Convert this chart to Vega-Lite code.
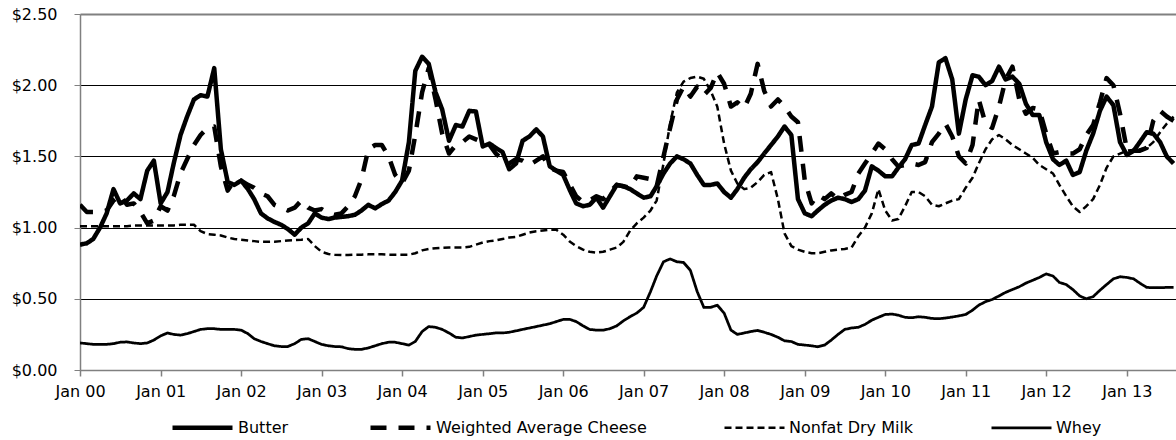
{
  "$schema": "https://vega.github.io/schema/vega-lite/v6.json",
  "width": 1096,
  "height": 356,
  "autosize": {"type": "none"},
  "padding": {"left": 80, "top": 14, "right": 0, "bottom": 70},
  "background": "white",
  "config": {"view": {"stroke": null}, "font": "DejaVu Sans"},
  "data": {"values": [
{"d":"2000-01-01","B":0.88,"C":1.16,"N":1.01,"W":0.19},
{"d":"2000-02-01","B":0.89,"C":1.11,"N":1.01,"W":0.185},
{"d":"2000-03-01","B":0.92,"C":1.11,"N":1.01,"W":0.18},
{"d":"2000-04-01","B":1.00,"C":1.11,"N":1.01,"W":0.18},
{"d":"2000-05-01","B":1.10,"C":1.12,"N":1.01,"W":0.18},
{"d":"2000-06-01","B":1.27,"C":1.19,"N":1.01,"W":0.185},
{"d":"2000-07-01","B":1.17,"C":1.23,"N":1.01,"W":0.195},
{"d":"2000-08-01","B":1.19,"C":1.16,"N":1.01,"W":0.197},
{"d":"2000-09-01","B":1.24,"C":1.17,"N":1.015,"W":0.19},
{"d":"2000-10-01","B":1.20,"C":1.11,"N":1.015,"W":0.185},
{"d":"2000-11-01","B":1.40,"C":1.03,"N":1.015,"W":0.19},
{"d":"2000-12-01","B":1.47,"C":1.05,"N":1.015,"W":0.21},
{"d":"2001-01-01","B":1.17,"C":1.15,"N":1.015,"W":0.24},
{"d":"2001-02-01","B":1.25,"C":1.12,"N":1.015,"W":0.26},
{"d":"2001-03-01","B":1.45,"C":1.22,"N":1.015,"W":0.25},
{"d":"2001-04-01","B":1.65,"C":1.38,"N":1.02,"W":0.245},
{"d":"2001-05-01","B":1.78,"C":1.48,"N":1.02,"W":0.255},
{"d":"2001-06-01","B":1.90,"C":1.58,"N":1.02,"W":0.27},
{"d":"2001-07-01","B":1.93,"C":1.65,"N":0.975,"W":0.285},
{"d":"2001-08-01","B":1.92,"C":1.70,"N":0.955,"W":0.29},
{"d":"2001-09-01","B":2.12,"C":1.71,"N":0.95,"W":0.29},
{"d":"2001-10-01","B":1.55,"C":1.43,"N":0.945,"W":0.285},
{"d":"2001-11-01","B":1.32,"C":1.26,"N":0.93,"W":0.285},
{"d":"2001-12-01","B":1.30,"C":1.33,"N":0.92,"W":0.285},
{"d":"2002-01-01","B":1.33,"C":1.33,"N":0.915,"W":0.28},
{"d":"2002-02-01","B":1.27,"C":1.30,"N":0.91,"W":0.255},
{"d":"2002-03-01","B":1.20,"C":1.28,"N":0.905,"W":0.22},
{"d":"2002-04-01","B":1.10,"C":1.24,"N":0.90,"W":0.20},
{"d":"2002-05-01","B":1.065,"C":1.22,"N":0.90,"W":0.185},
{"d":"2002-06-01","B":1.04,"C":1.16,"N":0.90,"W":0.17},
{"d":"2002-07-01","B":1.02,"C":1.14,"N":0.905,"W":0.165},
{"d":"2002-08-01","B":0.99,"C":1.12,"N":0.91,"W":0.165},
{"d":"2002-09-01","B":0.95,"C":1.14,"N":0.912,"W":0.185},
{"d":"2002-10-01","B":1.00,"C":1.19,"N":0.915,"W":0.215},
{"d":"2002-11-01","B":1.03,"C":1.14,"N":0.92,"W":0.22},
{"d":"2002-12-01","B":1.10,"C":1.12,"N":0.87,"W":0.20},
{"d":"2003-01-01","B":1.07,"C":1.13,"N":0.83,"W":0.18},
{"d":"2003-02-01","B":1.06,"C":1.10,"N":0.815,"W":0.17},
{"d":"2003-03-01","B":1.07,"C":1.09,"N":0.81,"W":0.165},
{"d":"2003-04-01","B":1.075,"C":1.10,"N":0.808,"W":0.163},
{"d":"2003-05-01","B":1.08,"C":1.15,"N":0.808,"W":0.15},
{"d":"2003-06-01","B":1.09,"C":1.22,"N":0.81,"W":0.145},
{"d":"2003-07-01","B":1.12,"C":1.34,"N":0.81,"W":0.145},
{"d":"2003-08-01","B":1.16,"C":1.55,"N":0.812,"W":0.155},
{"d":"2003-09-01","B":1.135,"C":1.58,"N":0.812,"W":0.17},
{"d":"2003-10-01","B":1.165,"C":1.58,"N":0.812,"W":0.185},
{"d":"2003-11-01","B":1.19,"C":1.50,"N":0.81,"W":0.195},
{"d":"2003-12-01","B":1.25,"C":1.37,"N":0.81,"W":0.195},
{"d":"2004-01-01","B":1.33,"C":1.31,"N":0.81,"W":0.185},
{"d":"2004-02-01","B":1.60,"C":1.40,"N":0.81,"W":0.175},
{"d":"2004-03-01","B":2.10,"C":1.65,"N":0.82,"W":0.20},
{"d":"2004-04-01","B":2.20,"C":1.95,"N":0.84,"W":0.27},
{"d":"2004-05-01","B":2.15,"C":2.12,"N":0.85,"W":0.305},
{"d":"2004-06-01","B":1.95,"C":1.90,"N":0.855,"W":0.30},
{"d":"2004-07-01","B":1.83,"C":1.66,"N":0.858,"W":0.285},
{"d":"2004-08-01","B":1.61,"C":1.52,"N":0.86,"W":0.26},
{"d":"2004-09-01","B":1.72,"C":1.58,"N":0.86,"W":0.23},
{"d":"2004-10-01","B":1.71,"C":1.60,"N":0.86,"W":0.225},
{"d":"2004-11-01","B":1.82,"C":1.64,"N":0.865,"W":0.235},
{"d":"2004-12-01","B":1.815,"C":1.62,"N":0.88,"W":0.245},
{"d":"2005-01-01","B":1.57,"C":1.60,"N":0.895,"W":0.25},
{"d":"2005-02-01","B":1.59,"C":1.58,"N":0.905,"W":0.255},
{"d":"2005-03-01","B":1.56,"C":1.52,"N":0.91,"W":0.26},
{"d":"2005-04-01","B":1.53,"C":1.48,"N":0.92,"W":0.26},
{"d":"2005-05-01","B":1.41,"C":1.45,"N":0.93,"W":0.265},
{"d":"2005-06-01","B":1.45,"C":1.48,"N":0.935,"W":0.275},
{"d":"2005-07-01","B":1.61,"C":1.47,"N":0.95,"W":0.285},
{"d":"2005-08-01","B":1.64,"C":1.44,"N":0.965,"W":0.295},
{"d":"2005-09-01","B":1.69,"C":1.47,"N":0.975,"W":0.305},
{"d":"2005-10-01","B":1.64,"C":1.50,"N":0.98,"W":0.315},
{"d":"2005-11-01","B":1.43,"C":1.42,"N":0.985,"W":0.325},
{"d":"2005-12-01","B":1.40,"C":1.40,"N":0.985,"W":0.34},
{"d":"2006-01-01","B":1.37,"C":1.39,"N":0.95,"W":0.355},
{"d":"2006-02-01","B":1.26,"C":1.30,"N":0.90,"W":0.355},
{"d":"2006-03-01","B":1.17,"C":1.22,"N":0.87,"W":0.34},
{"d":"2006-04-01","B":1.15,"C":1.18,"N":0.845,"W":0.31},
{"d":"2006-05-01","B":1.16,"C":1.19,"N":0.83,"W":0.285},
{"d":"2006-06-01","B":1.21,"C":1.22,"N":0.824,"W":0.28},
{"d":"2006-07-01","B":1.14,"C":1.20,"N":0.83,"W":0.28},
{"d":"2006-08-01","B":1.22,"C":1.25,"N":0.845,"W":0.29},
{"d":"2006-09-01","B":1.30,"C":1.30,"N":0.86,"W":0.31},
{"d":"2006-10-01","B":1.29,"C":1.29,"N":0.90,"W":0.345},
{"d":"2006-11-01","B":1.27,"C":1.28,"N":0.98,"W":0.375},
{"d":"2006-12-01","B":1.24,"C":1.36,"N":1.03,"W":0.40},
{"d":"2007-01-01","B":1.21,"C":1.35,"N":1.07,"W":0.44},
{"d":"2007-02-01","B":1.22,"C":1.34,"N":1.12,"W":0.55},
{"d":"2007-03-01","B":1.29,"C":1.29,"N":1.19,"W":0.66},
{"d":"2007-04-01","B":1.38,"C":1.50,"N":1.45,"W":0.76},
{"d":"2007-05-01","B":1.45,"C":1.70,"N":1.73,"W":0.78},
{"d":"2007-06-01","B":1.50,"C":1.90,"N":1.95,"W":0.76},
{"d":"2007-07-01","B":1.48,"C":1.99,"N":2.025,"W":0.755},
{"d":"2007-08-01","B":1.45,"C":1.92,"N":2.05,"W":0.70},
{"d":"2007-09-01","B":1.37,"C":1.99,"N":2.06,"W":0.55},
{"d":"2007-10-01","B":1.30,"C":1.93,"N":2.045,"W":0.44},
{"d":"2007-11-01","B":1.30,"C":1.98,"N":1.96,"W":0.44},
{"d":"2007-12-01","B":1.31,"C":2.09,"N":1.85,"W":0.455},
{"d":"2008-01-01","B":1.25,"C":2.01,"N":1.59,"W":0.40},
{"d":"2008-02-01","B":1.21,"C":1.85,"N":1.40,"W":0.28},
{"d":"2008-03-01","B":1.27,"C":1.88,"N":1.31,"W":0.25},
{"d":"2008-04-01","B":1.35,"C":1.84,"N":1.27,"W":0.26},
{"d":"2008-05-01","B":1.41,"C":1.94,"N":1.28,"W":0.27},
{"d":"2008-06-01","B":1.46,"C":2.15,"N":1.32,"W":0.278},
{"d":"2008-07-01","B":1.52,"C":1.96,"N":1.37,"W":0.265},
{"d":"2008-08-01","B":1.58,"C":1.85,"N":1.39,"W":0.25},
{"d":"2008-09-01","B":1.64,"C":1.90,"N":1.20,"W":0.23},
{"d":"2008-10-01","B":1.71,"C":1.85,"N":0.96,"W":0.205},
{"d":"2008-11-01","B":1.65,"C":1.78,"N":0.87,"W":0.20},
{"d":"2008-12-01","B":1.20,"C":1.74,"N":0.845,"W":0.18},
{"d":"2009-01-01","B":1.10,"C":1.33,"N":0.83,"W":0.175},
{"d":"2009-02-01","B":1.08,"C":1.17,"N":0.82,"W":0.17},
{"d":"2009-03-01","B":1.12,"C":1.23,"N":0.82,"W":0.163},
{"d":"2009-04-01","B":1.16,"C":1.20,"N":0.83,"W":0.175},
{"d":"2009-05-01","B":1.19,"C":1.24,"N":0.84,"W":0.21},
{"d":"2009-06-01","B":1.21,"C":1.20,"N":0.845,"W":0.25},
{"d":"2009-07-01","B":1.20,"C":1.23,"N":0.85,"W":0.285},
{"d":"2009-08-01","B":1.18,"C":1.25,"N":0.86,"W":0.295},
{"d":"2009-09-01","B":1.20,"C":1.38,"N":0.94,"W":0.30},
{"d":"2009-10-01","B":1.26,"C":1.45,"N":1.00,"W":0.32},
{"d":"2009-11-01","B":1.43,"C":1.52,"N":1.10,"W":0.35},
{"d":"2009-12-01","B":1.40,"C":1.59,"N":1.27,"W":0.37},
{"d":"2010-01-01","B":1.36,"C":1.55,"N":1.12,"W":0.39},
{"d":"2010-02-01","B":1.36,"C":1.48,"N":1.05,"W":0.393},
{"d":"2010-03-01","B":1.42,"C":1.43,"N":1.06,"W":0.385},
{"d":"2010-04-01","B":1.48,"C":1.44,"N":1.15,"W":0.37},
{"d":"2010-05-01","B":1.58,"C":1.45,"N":1.25,"W":0.367},
{"d":"2010-06-01","B":1.59,"C":1.44,"N":1.25,"W":0.374},
{"d":"2010-07-01","B":1.72,"C":1.46,"N":1.22,"W":0.37},
{"d":"2010-08-01","B":1.85,"C":1.60,"N":1.16,"W":0.362},
{"d":"2010-09-01","B":2.16,"C":1.66,"N":1.15,"W":0.36},
{"d":"2010-10-01","B":2.19,"C":1.73,"N":1.17,"W":0.365},
{"d":"2010-11-01","B":2.04,"C":1.64,"N":1.19,"W":0.372},
{"d":"2010-12-01","B":1.66,"C":1.50,"N":1.20,"W":0.38},
{"d":"2011-01-01","B":1.90,"C":1.45,"N":1.28,"W":0.39},
{"d":"2011-02-01","B":2.07,"C":1.58,"N":1.35,"W":0.42},
{"d":"2011-03-01","B":2.06,"C":1.90,"N":1.45,"W":0.455},
{"d":"2011-04-01","B":2.00,"C":1.73,"N":1.55,"W":0.48},
{"d":"2011-05-01","B":2.03,"C":1.70,"N":1.62,"W":0.495},
{"d":"2011-06-01","B":2.13,"C":1.85,"N":1.65,"W":0.52},
{"d":"2011-07-01","B":2.04,"C":2.04,"N":1.62,"W":0.545},
{"d":"2011-08-01","B":2.06,"C":2.13,"N":1.58,"W":0.565},
{"d":"2011-09-01","B":2.01,"C":1.90,"N":1.55,"W":0.585},
{"d":"2011-10-01","B":1.87,"C":1.80,"N":1.52,"W":0.61},
{"d":"2011-11-01","B":1.79,"C":1.84,"N":1.49,"W":0.63},
{"d":"2011-12-01","B":1.79,"C":1.83,"N":1.44,"W":0.65},
{"d":"2012-01-01","B":1.60,"C":1.66,"N":1.41,"W":0.675},
{"d":"2012-02-01","B":1.48,"C":1.52,"N":1.38,"W":0.66},
{"d":"2012-03-01","B":1.44,"C":1.53,"N":1.30,"W":0.615},
{"d":"2012-04-01","B":1.47,"C":1.52,"N":1.22,"W":0.60},
{"d":"2012-05-01","B":1.37,"C":1.52,"N":1.15,"W":0.565},
{"d":"2012-06-01","B":1.39,"C":1.55,"N":1.11,"W":0.52},
{"d":"2012-07-01","B":1.54,"C":1.65,"N":1.15,"W":0.50},
{"d":"2012-08-01","B":1.66,"C":1.72,"N":1.20,"W":0.515},
{"d":"2012-09-01","B":1.82,"C":1.88,"N":1.30,"W":0.56},
{"d":"2012-10-01","B":1.92,"C":2.05,"N":1.42,"W":0.60},
{"d":"2012-11-01","B":1.86,"C":2.00,"N":1.50,"W":0.64},
{"d":"2012-12-01","B":1.60,"C":1.80,"N":1.52,"W":0.655},
{"d":"2013-01-01","B":1.51,"C":1.55,"N":1.54,"W":0.65},
{"d":"2013-02-01","B":1.54,"C":1.54,"N":1.545,"W":0.64},
{"d":"2013-03-01","B":1.60,"C":1.54,"N":1.55,"W":0.61},
{"d":"2013-04-01","B":1.67,"C":1.56,"N":1.56,"W":0.58},
{"d":"2013-05-01","B":1.66,"C":1.75,"N":1.60,"W":0.578},
{"d":"2013-06-01","B":1.60,"C":1.82,"N":1.67,"W":0.578},
{"d":"2013-07-01","B":1.50,"C":1.78,"N":1.73,"W":0.58},
{"d":"2013-08-01","B":1.45,"C":1.75,"N":1.78,"W":0.58}
  ]},
  "transform": [
    {"fold": ["B", "C", "N", "W"], "as": ["key", "price"]},
    {"lookup": "key", "from": {"data": {"values": [
      {"key": "B", "series": "Butter"},
      {"key": "C", "series": "Weighted Average Cheese"},
      {"key": "N", "series": "Nonfat Dry Milk"},
      {"key": "W", "series": "Whey"}
    ]}, "key": "key", "fields": ["series"]}}
  ],
  "mark": {"type": "line", "clip": true, "strokeJoin": "round", "strokeCap": "butt"},
  "encoding": {
    "x": {
      "field": "d", "type": "temporal",
      "scale": {"type": "utc", "domain": [{"year": 2000, "month": 1, "date": 1, "utc": true}, {"year": 2013, "month": 8, "date": 12, "utc": true}]},
      "axis": {
        "title": null,
        "labelExpr": "utcFormat(datum.value, '%b %y')",
        "tickCount": {"interval": "year", "step": 1},
        "grid": false, "domainColor": "#808080", "domainWidth": 1.5, "tickColor": "#808080", "tickWidth": 1.5, "tickSize": 6,
        "labelFont": "DejaVu Sans", "labelFontSize": 16, "labelColor": "black", "labelPadding": 7,
        "labelFlush": false, "labelOverlap": false
      }
    },
    "y": {
      "field": "price", "type": "quantitative",
      "scale": {"domain": [0, 2.5], "nice": false, "zero": true},
      "axis": {
        "title": null, "values": [0, 0.5, 1, 1.5, 2, 2.5], "format": "$.2f",
        "grid": true,
        "gridColor": {"condition": {"test": "datum.value === 2.5 || datum.value === 0", "value": "#808080"}, "value": "black"},
        "gridWidth": {"condition": {"test": "datum.value === 2.5", "value": 2}, "value": 1},
        "domainColor": "#808080", "domainWidth": 1.5, "tickColor": "#808080", "tickSize": 6,
        "labelFont": "DejaVu Sans", "labelFontSize": 16, "labelColor": "black", "labelPadding": 17
      }
    },
    "color": {
      "field": "series", "type": "nominal",
      "scale": {"domain": ["Butter", "Weighted Average Cheese", "Nonfat Dry Milk", "Whey"], "range": ["black", "black", "black", "black"]},
      "legend": {
        "orient": "none", "legendX": 90, "legendY": 381, "direction": "horizontal", "title": null,
        "symbolType": "stroke", "symbolSize": 3600, "symbolStrokeColor": "black",
        "labelFont": "DejaVu Sans", "labelFontSize": 16, "labelColor": "black", "labelOffset": 3,
        "columnPadding": 72, "labelLimit": 400
      }
    },
    "strokeDash": {
      "field": "series", "type": "nominal",
      "scale": {"domain": ["Butter", "Weighted Average Cheese", "Nonfat Dry Milk", "Whey"], "range": [[1, 0], [16, 12], [7, 4], [1, 0]]}
    },
    "strokeWidth": {
      "field": "series", "type": "nominal",
      "scale": {"type": "ordinal", "domain": ["Butter", "Weighted Average Cheese", "Nonfat Dry Milk", "Whey"], "range": [4.5, 4.5, 2.5, 2.75]}
    }
  }
}
